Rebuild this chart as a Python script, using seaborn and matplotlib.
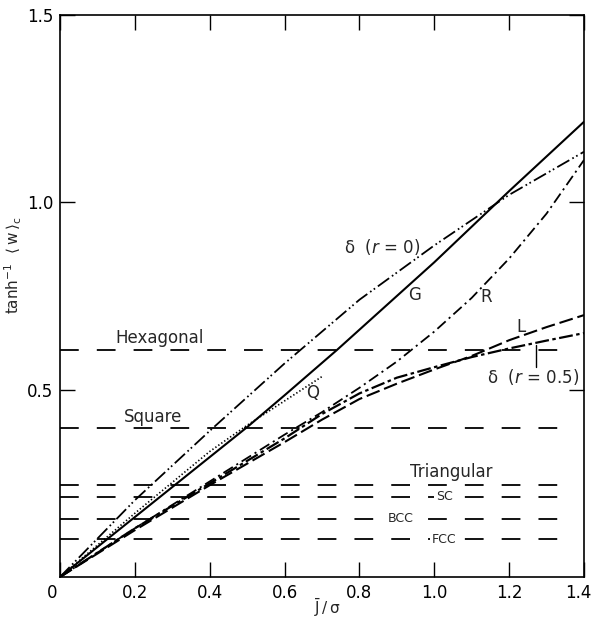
import matplotlib
matplotlib.use("Agg")
import matplotlib.pyplot as plt
import matplotlib.transforms as mtransforms
import seaborn as sns

# ---- data ----
x_g = [0.0, 0.2, 0.4, 0.5, 0.6, 0.74, 0.8, 1.0, 1.2, 1.4]
y_g = [0.0, 0.16, 0.32, 0.40, 0.485, 0.606, 0.66, 0.84, 1.03, 1.215]

x_d0 = [0.0, 0.2, 0.4, 0.6, 0.8, 1.0, 1.2, 1.4]
y_d0 = [0.0, 0.205, 0.39, 0.57, 0.74, 0.885, 1.02, 1.135]

x_r = [0.0, 0.2, 0.4, 0.6, 0.7, 0.8, 0.9, 1.0, 1.1, 1.2, 1.3, 1.4]
y_r = [0.0, 0.13, 0.255, 0.38, 0.44, 0.505, 0.575, 0.655, 0.745, 0.85, 0.97, 1.113]

x_l = [0.0, 0.2, 0.4, 0.6, 0.7, 0.8, 0.9, 1.0, 1.1, 1.2, 1.3, 1.4]
y_l = [0.0, 0.125, 0.245, 0.36, 0.42, 0.475, 0.516, 0.554, 0.59, 0.632, 0.667, 0.699]

x_d5 = [0.0, 0.2, 0.4, 0.6, 0.7, 0.8, 0.9, 1.0, 1.1, 1.2, 1.3, 1.4]
y_d5 = [0.0, 0.13, 0.25, 0.37, 0.435, 0.49, 0.532, 0.56, 0.587, 0.61, 0.631, 0.651]

x_q = [0.0, 0.2, 0.4, 0.5, 0.6, 0.7]
y_q = [0.0, 0.17, 0.335, 0.405, 0.47, 0.535]

lattices = ["Hexagonal", "Square", "Triangular", "SC", "BCC", "FCC"]
levels = [0.606, 0.398, 0.2455, 0.214, 0.155, 0.101]

sns.set_theme(style="ticks")
plt.rcParams["font.family"] = ["DejaVu Sans"]
plt.rcParams["mathtext.default"] = "regular"
plt.rcParams["lines.scale_dashes"] = False

fig = plt.figure(figsize=(5.93, 6.22), dpi=100)
ax = fig.add_axes([60 / 593, 45 / 622, 524 / 593, 562 / 622])

k = "black"
sns.lineplot(x=x_g, y=y_g, ax=ax, color=k, lw=1.5, linestyle="-")
sns.lineplot(x=x_d0, y=y_d0, ax=ax, color=k, lw=1.3,
             linestyle=(0, (10, 2.5, 1.2, 2, 1.2, 2.5)))
sns.lineplot(x=x_r, y=y_r, ax=ax, color=k, lw=1.3,
             linestyle=(0, (8, 3, 1.5, 3)))
sns.lineplot(x=x_l, y=y_l, ax=ax, color=k, lw=1.5,
             linestyle=(0, (10, 3.5)))
sns.lineplot(x=x_d5, y=y_d5, ax=ax, color=k, lw=1.6,
             linestyle=(0, (10, 2.5, 2.5, 2.5)))
sns.lineplot(x=x_q, y=y_q, ax=ax, color=k, lw=1.2,
             linestyle=(0, (1, 1.6)))

ax.hlines(levels, 0, 1.35, colors=k, lw=1.3, linestyles=[(0, (13.5, 13))])

# curve labels
fs = 12
ax.text(0.86, 0.881, "δ  ($\\it{r}$ = 0)", fontsize=fs, ha="center", va="center")
ax.text(0.948, 0.753, "G", fontsize=fs, ha="center", va="center")
ax.text(1.14, 0.747, "R", fontsize=fs, ha="center", va="center")
ax.text(1.233, 0.667, "L", fontsize=fs, ha="center", va="center")
ax.text(0.675, 0.491, "Q", fontsize=fs, ha="center", va="center")
ax.text(1.263, 0.534, "δ  ($\\it{r}$ = 0.5)", fontsize=fs, ha="center", va="center")
ax.plot([1.272, 1.272], [0.56, 0.619], color=k, lw=1)

# lattice labels
lab_pos = {"Hexagonal": (0.267, 0.638, 12), "Square": (0.249, 0.427, 12),
           "Triangular": (1.044, 0.28, 12), "SC": (1.027, 0.214, 9),
           "BCC": (0.91, 0.155, 9), "FCC": (1.027, 0.101, 9)}
for name in lattices:
    x, y, s = lab_pos[name]
    if s < 10:
        ax.text(x, y, name, fontsize=s, ha="center", va="center",
                bbox=dict(facecolor="white", edgecolor="none", pad=1.5))
    else:
        ax.text(x, y, name, fontsize=s, ha="center", va="center")

ax.set_xlim(0, 1.4)
ax.set_ylim(0, 1.5)
ax.set_xticks([0, 0.2, 0.4, 0.6, 0.8, 1.0, 1.2, 1.4])
ax.set_xticklabels(["0", "0.2", "0.4", "0.6", "0.8", "1.0", "1.2", "1.4"])
ax.set_yticks([0.5, 1.0, 1.5])
ax.set_yticklabels(["0.5", "1.0", "1.5"])
ax.tick_params(direction="in", length=11, width=1, top=True, right=True,
               labelsize=12, color=k, labelcolor=k, pad=5)
for sp in ax.spines.values():
    sp.set_color(k)
    sp.set_linewidth(1.2)

xlbls = ax.get_xticklabels()
for lbl, dx in ((xlbls[0], -8), (xlbls[-1], -6)):
    lbl.set_transform(lbl.get_transform() +
                      mtransforms.ScaledTranslation(dx / 100, 0, fig.dpi_scale_trans))

ax.set_xlabel(r"$\bar{J}\,/\,\sigma$", fontsize=11)
ax.xaxis.set_label_coords(0.51, -0.036)
ax.set_ylabel(r"tanh$^{-1}$  $\langle\,w\,\rangle_c$", fontsize=11)
ax.yaxis.set_label_coords(-0.068, 0.555)

fig.savefig("out.png", dpi=100)
